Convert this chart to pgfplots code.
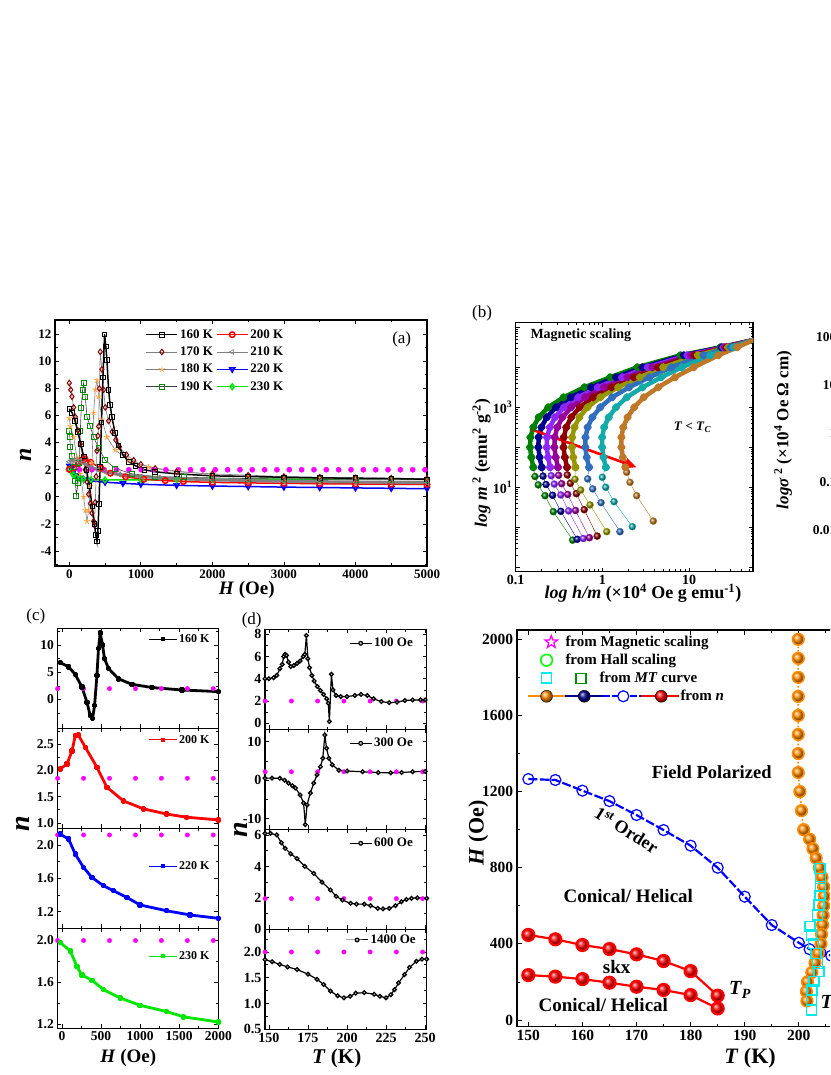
\documentclass[border=0pt]{standalone}
\usepackage{pgfplots}
\pgfplotsset{compat=1.18}
\usepackage{fontspec}
\setmainfont{Liberation Serif}
\usetikzlibrary{arrows.meta,shapes.geometric}

\definecolor{magdot}{RGB}{255,0,255}
\definecolor{dkred}{RGB}{139,0,0}
\definecolor{orst}{RGB}{255,160,60}
\definecolor{grsq}{RGB}{0,140,0}
\definecolor{lime}{RGB}{0,230,0}
\definecolor{bgreen}{RGB}{0,128,0}
\definecolor{bnavy}{RGB}{0,0,140}
\definecolor{bviolet}{RGB}{140,40,255}
\definecolor{bpurple}{RGB}{150,0,150}
\definecolor{bdkred}{RGB}{140,0,0}
\definecolor{bolive}{RGB}{150,150,0}
\definecolor{bsteel}{RGB}{50,110,190}
\definecolor{bteal}{RGB}{20,170,170}
\definecolor{bbrown}{RGB}{190,120,40}
\definecolor{eorange}{RGB}{255,140,0}
\definecolor{ecyan}{RGB}{0,235,235}

\pgfplotsset{
  panel/.style={scale only axis, anchor=north west,
    axis line style={line width=1.1pt},
    every tick/.style={black, line width=0.8pt},
    major tick length=4pt, minor tick length=2.5pt,
    scaled ticks=false,
    /pgf/number format/assume math mode=true,
    /pgf/number format/1000 sep={},
    tick label style={font=\bfseries\fontsize{13}{13}\selectfont},
    legend cell align=left},
  magd/.style={only marks, mark=*, mark size=2.2pt, magdot, forget plot},
  shortleg/.style={legend image code/.code={\draw[mark repeat=2,mark phase=2,##1] plot coordinates {(0pt,0pt) (#1,0pt) (2*#1,0pt)};}},
  cpan/.style={panel, width=161pt, height=100pt, xmin=-60, xmax=2000,
    xtick={0,500,...,2000}, minor xtick={250,750,1250,1750},
    tick label style={font=\bfseries\fontsize{13.5}{13.5}\selectfont},
    legend style={draw=none, fill=none, font=\bfseries\fontsize{12}{12}\selectfont, inner sep=0pt, anchor=east},
    shortleg=14pt},
  dpan/.style={panel, width=161.7pt, height=100pt, xmin=147.5, xmax=251,
    xtick={150,175,200,225,250}, minor xtick={162.5,187.5,212.5,237.5},
    tick label style={font=\bfseries\fontsize{14}{14}\selectfont},
    legend style={draw=none, fill=none, font=\bfseries\fontsize{13}{13}\selectfont, inner sep=0pt, anchor=east},
    shortleg=11pt},
  ccurve/.style={#1, line width=2.8pt, line join=round, mark=square*, mark size=1.3pt, forget plot},
  dcurve/.style={black, line width=1.2pt, mark=ball, mark size=1.9pt, mark options={ball color=gray}, forget plot},
}

\newcommand{\bcurve}[3]{%
  \addplot[#1, line width=0.4pt, mark=ball, mark size=3.5pt, mark options={ball color=#1}, forget plot] coordinates {#2};
  \addplot[#1, line width=4.5pt, line join=round, line cap=round, mark=ball, mark size=1.8pt, mark options={ball color=#1}, forget plot] coordinates {#3};
}

\begin{document}
\begin{tikzpicture}
\useasboundingbox (0pt,0pt) rectangle (830pt,1075pt);
\clip (0pt,0pt) rectangle (830pt,1075pt);

% ---------------- (a)
\begin{axis}[panel, at={(55pt,755pt)}, width=372pt, height=246pt,
  axis line style={line width=1.3pt},
  xmin=-200, xmax=5000, ymin=-5.1, ymax=13.05,
  xtick={0,1000,...,5000}, minor xtick={500,1500,...,4500},
  ytick={-4,-2,...,12}, minor ytick={-5,-3,...,13},
  legend columns=2, shortleg=15.5pt,
  legend style={draw=none, fill=none, at={(0.235,0.978)}, anchor=north west,
    font=\bfseries\fontsize{13}{13}\selectfont, row sep=3.2pt,
    /tikz/every even column/.append style={column sep=1pt}}]
\addplot[magd, mark size=2.6pt] coordinates {(142.5,2)(315,2)(487.5,2)(660,2)(832.5,2)(1005,2)(1177.5,2)(1350,2)(1522.5,2)(1695,2)(1867.5,2)(2040,2)(2212.5,2)(2385,2)(2557.5,2)(2730,2)(2902.5,2)(3075,2)(3247.5,2)(3420,2)(3592.5,2)(3765,2)(3937.5,2)(4110,2)(4282.5,2)(4455,2)(4627.5,2)(4800,2)(4972.5,2)};
% 220 K
\addplot[blue, line width=1.5pt, mark=triangle, mark options={fill=white, rotate=180}, mark size=2.8pt, forget plot] coordinates {(0,2.3)(30,2.2)(60,1.9)(100,1.6)(150,1.4)(200,1.28)(300,1.18)(500,1.08)(750,1.0)(1000,0.93)(1500,0.85)(2000,0.8)(2500,0.76)(3000,0.72)(3500,0.69)(4000,0.66)(4500,0.63)(5000,0.6)};
% 230 K
\addplot[lime, line width=1.5pt, mark=diamond, mark options={fill=white}, mark size=2.8pt, forget plot] coordinates {(0,2.05)(30,1.85)(60,1.6)(100,1.45)(150,1.35)(200,1.3)(300,1.27)(500,1.25)(1000,1.25)(1500,1.27)(2000,1.28)(2500,1.3)(3000,1.3)(3500,1.3)(4000,1.3)(4500,1.3)(5000,1.3)};
% 200 K
\addplot[red, line width=1.5pt, mark=o, mark options={fill=white}, mark size=2.8pt, forget plot] coordinates {(0,2.03)(64,2.15)(128,2.45)(170,2.7)(220,2.8)(298,2.55)(447,2.1)(575,1.75)(787,1.48)(1042,1.3)(1341,1.2)(1596,1.13)(2000,1.07)(2500,1.03)(3000,1.0)(3500,0.97)(4000,0.95)(4500,0.93)(5000,0.92)};
% 190 K
\addplot[darkgray, line width=0.6pt, mark=square, mark options={grsq, fill=white, line width=0.8pt}, mark size=2.5pt, forget plot] coordinates {(0,4.9)(7,4.4)(14,3.7)(37,3.0)(60,2.2)(84,1.2)(98,0.1)(121,1.0)(140,2.5)(154,4.9)(168,6.6)(186,7.9)(200,8.4)(223,7.4)(247,5.9)(293,5.2)(340,4.4)(410,3.6)(503,2.7)(642,2.1)(876,1.7)(1200,1.5)(1600,1.45)(2000,1.4)(2500,1.35)(3000,1.32)(3500,1.3)(4000,1.28)(4500,1.26)(5000,1.25)};
% 180 K
\addplot[gray, line width=0.6pt, mark=star, mark options={orst, line width=0.8pt}, mark size=3pt, forget plot] coordinates {(0,5.8)(14,5.2)(60,4.4)(107,2.9)(154,1.7)(200,0.0)(225,-1.0)(247,-1.8)(270,-1.0)(295,0.8)(317,2.5)(340,6.2)(363,7.9)(387,8.6)(410,7.4)(456,5.7)(526,4.4)(642,3.45)(828,2.7)(1107,2.2)(1500,1.9)(2000,1.65)(2500,1.5)(3000,1.4)(3500,1.35)(4000,1.3)(4500,1.28)(5000,1.25)};
% 170 K
\addplot[gray, line width=0.6pt, mark=diamond, mark options={dkred, fill=white, line width=1pt}, mark size=2.8pt, forget plot] coordinates {(0,8.4)(20,7.9)(37,7.4)(60,6.6)(84,5.9)(120,4.9)(154,3.9)(190,2.9)(223,2.0)(250,1.1)(270,0.2)(295,-0.5)(317,-1.2)(340,-1.8)(353,-2.1)(363,-0.4)(375,1.5)(387,3.4)(400,4.5)(410,5.2)(420,8)(433,10.7)(456,9.4)(479,7.9)(503,6.6)(549,5.6)(600,4.8)(650,4.2)(700,3.7)(800,3.1)(900,2.7)(1000,2.4)(1200,2.1)(1500,1.85)(2000,1.7)(2500,1.6)(3000,1.5)(3500,1.45)(4000,1.4)(4500,1.38)(5000,1.35)};
% 160 K
\addplot[black, line width=1.5pt, mark=square, mark options={fill=white, line width=0.8pt}, mark size=2.3pt, forget plot] coordinates {(0,6.5)(40,6.2)(80,5.6)(120,4.8)(160,3.9)(200,3.0)(240,2.0)(280,0.8)(320,-0.7)(350,-2.0)(370,-2.8)(387,-3.3)(400,-2.5)(415,-0.5)(430,2.2)(450,5.5)(470,8.8)(493,12)(510,11.1)(526,10.1)(549,7.9)(570,6.8)(595,5.9)(640,4.7)(689,3.8)(750,3.1)(830,2.6)(922,2.3)(1050,2.0)(1200,1.85)(1500,1.7)(2000,1.55)(2500,1.5)(3000,1.45)(3500,1.4)(4000,1.38)(4500,1.35)(5000,1.3)};
% 210 K
\addplot[gray, line width=3pt, mark=triangle, mark options={fill=white, rotate=90, line width=0.8pt}, mark size=2.8pt, forget plot] coordinates {(0,2.6)(50,2.7)(100,2.75)(150,2.65)(200,2.5)(300,2.2)(400,2.0)(500,1.85)(700,1.65)(1000,1.5)(1250,1.42)(1500,1.35)(2000,1.25)(2500,1.2)(3000,1.15)(3500,1.12)(4000,1.1)(4500,1.07)(5000,1.05)};
\addlegendimage{black, line width=1.5pt, mark=square, mark options={fill=white, line width=0.8pt}, mark size=2.3pt}
\addlegendentry{160 K}
\addlegendimage{red, line width=1.5pt, mark=o, mark options={fill=white}, mark size=2.8pt}
\addlegendentry{200 K}
\addlegendimage{gray, line width=0.6pt, mark=diamond, mark options={dkred, fill=white, line width=1pt}, mark size=2.8pt}
\addlegendentry{170 K}
\addlegendimage{gray, line width=0.6pt, mark=triangle, mark options={gray, fill=white, rotate=90}, mark size=2.8pt}
\addlegendentry{210 K}
\addlegendimage{gray, line width=0.6pt, mark=star, mark options={orst}, mark size=3pt}
\addlegendentry{180 K}
\addlegendimage{blue, line width=1.5pt, mark=triangle, mark options={fill=white, rotate=180}, mark size=2.8pt}
\addlegendentry{220 K}
\addlegendimage{darkgray, line width=0.6pt, mark=square, mark options={grsq, fill=white}, mark size=2.5pt}
\addlegendentry{190 K}
\addlegendimage{lime, line width=1.5pt, mark=diamond, mark options={fill=white}, mark size=2.8pt}
\addlegendentry{230 K}
\end{axis}

% ---------------- (b)  (axes in decades: value = log10)
\begin{axis}[panel, at={(515.7pt,752.3pt)}, width=237.3pt, height=249pt,
  axis line style={line width=1.3pt},
  tick label style={font=\bfseries\fontsize{14}{14}\selectfont},
  xmin=-1, xmax=1.737, ymin=-1.11, ymax=5.115,
  xtick={-1,0,1}, xticklabels={0.1,1,10},
  minor xtick={-0.699,-0.523,-0.398,-0.301,-0.222,-0.155,-0.097,-0.046,0.301,0.477,0.602,0.699,0.778,0.845,0.903,0.954,1.301,1.477,1.602,1.699},
  ytick={-1,0,1,2,3,4,5}, yticklabels={,,10\textsuperscript{1},,10\textsuperscript{3},,},
  minor ytick={-0.699,-0.523,-0.398,-0.301,-0.222,-0.155,-0.097,-0.046,0.301,0.477,0.602,0.699,0.778,0.845,0.903,0.954,1.301,1.477,1.602,1.699,1.778,1.845,1.903,1.954,2.301,2.477,2.602,2.699,2.778,2.845,2.903,2.954,3.301,3.477,3.602,3.699,3.778,3.845,3.903,3.954,4.301,4.477,4.602,4.699,4.778,4.845,4.903,4.954},
  ]
\bcurve{bgreen}{(-0.343,-0.32)(-0.566,0.39)(-0.662,0.79)(-0.74,1.06)(-0.777,1.27)(-0.797,1.5)}{(-0.797,1.5)(-0.82,1.75)(-0.835,2.0)(-0.83,2.25)(-0.797,2.5)(-0.735,2.75)(-0.625,3.0)(-0.448,3.25)(-0.208,3.5)(0.089,3.75)(0.403,4.0)(0.9,4.3)(1.36,4.5)(1.74,4.68)}
\bcurve{bnavy}{(-0.29,-0.30)(-0.48,0.40)(-0.575,0.80)(-0.65,1.07)(-0.685,1.28)(-0.70,1.5)}{(-0.70,1.5)(-0.724,1.75)(-0.739,2.0)(-0.735,2.25)(-0.703,2.5)(-0.642,2.75)(-0.535,3.0)(-0.364,3.25)(-0.13,3.5)(0.157,3.75)(0.462,4.0)(0.94,4.3)(1.378,4.5)(1.74,4.68)}
\bcurve{bviolet}{(-0.22,-0.28)(-0.39,0.41)(-0.48,0.81)(-0.555,1.08)(-0.59,1.29)(-0.603,1.5)}{(-0.603,1.5)(-0.627,1.75)(-0.642,2.0)(-0.638,2.25)(-0.607,2.5)(-0.547,2.75)(-0.443,3.0)(-0.279,3.25)(-0.052,3.5)(0.226,3.75)(0.522,4.0)(0.98,4.3)(1.396,4.5)(1.74,4.68)}
\bcurve{bpurple}{(-0.15,-0.26)(-0.31,0.42)(-0.40,0.82)(-0.47,1.09)(-0.505,1.30)(-0.513,1.5)}{(-0.513,1.5)(-0.538,1.75)(-0.554,2.0)(-0.55,2.25)(-0.52,2.5)(-0.461,2.75)(-0.36,3.0)(-0.201,3.25)(0.019,3.5)(0.289,3.75)(0.577,4.0)(1.017,4.3)(1.412,4.5)(1.74,4.68)}
\bcurve{bdkred}{(-0.06,-0.22)(-0.21,0.44)(-0.30,0.84)(-0.37,1.10)(-0.405,1.31)(-0.408,1.5)}{(-0.408,1.5)(-0.433,1.75)(-0.449,2.0)(-0.446,2.25)(-0.417,2.5)(-0.36,2.75)(-0.262,3.0)(-0.109,3.25)(0.104,3.5)(0.363,3.75)(0.641,4.0)(1.06,4.3)(1.431,4.5)(1.74,4.68)}
\bcurve{bolive}{(0.05,-0.11)(-0.143,0.56)(-0.25,0.93)(-0.316,1.2)(-0.311,1.5)}{(-0.311,1.5)(-0.336,1.75)(-0.352,2.0)(-0.35,2.25)(-0.322,2.5)(-0.266,2.75)(-0.171,3.0)(-0.024,3.25)(0.182,3.5)(0.432,3.75)(0.701,4.0)(1.101,4.3)(1.449,4.5)(1.74,4.68)}
\bcurve{bsteel}{(0.203,-0.11)(-0.016,0.615)(-0.112,0.96)(-0.17,1.21)(-0.154,1.5)}{(-0.154,1.5)(-0.181,1.75)(-0.197,2.0)(-0.195,2.25)(-0.17,2.5)(-0.115,2.75)(-0.025,3.0)(0.112,3.25)(0.307,3.5)(0.542,3.75)(0.797,4.0)(1.165,4.3)(1.478,4.5)(1.74,4.68)}
\bcurve{bteal}{(0.345,0.015)(0.134,0.64)(0.038,1.0)(-0.001,1.25)(0.04,1.5)}{(0.04,1.5)(0.012,1.75)(-0.004,2.0)(-0.003,2.25)(0.02,2.5)(0.073,2.75)(0.157,3.0)(0.281,3.25)(0.463,3.5)(0.678,3.75)(0.916,4.0)(1.245,4.3)(1.514,4.5)(1.74,4.68)}
\bcurve{bbrown}{(0.587,0.157)(0.395,0.79)(0.318,1.125)(0.28,1.375)(0.265,1.5)}{(0.265,1.5)(0.236,1.75)(0.219,2.0)(0.219,2.25)(0.24,2.5)(0.29,2.75)(0.367,3.0)(0.477,3.25)(0.644,3.5)(0.837,3.75)(1.054,4.0)(1.338,4.3)(1.555,4.5)(1.74,4.68)}
\addplot[red, line width=2.6pt, -{Triangle[length=12pt,width=10pt]}, forget plot] coordinates {(-0.835,2.46)(0.395,1.5)};
\node[anchor=west, font=\bfseries\fontsize{14}{14}\selectfont] at (axis cs:-0.87,4.81) {Magnetic scaling};
\node[font=\bfseries\fontsize{13}{13}\selectfont] at (axis cs:1.04,2.51) {\textit{T} < \textit{T}\textsubscript{\textit{C}}};
\end{axis}

% ---------------- right fragment (sigma axis)
\begin{axis}[panel, at={(840pt,752.3pt)}, width=150pt, height=249pt,
  ymode=log, ymin=0.00137, ymax=198, xmin=0, xmax=1,
  ytick={0.01,0.1,1,10,100}, yticklabels={0.01,0.1,1,10,100},
  xtick=\empty, tick label style={font=\bfseries\fontsize{13.5}{13.5}\selectfont}]
\end{axis}

% ---------------- (c)
\begin{axis}[cpan, at={(57.3pt,446.7pt)}, ymin=-5.3, ymax=13.1, ytick={0,5,10}, minor ytick={-2.5,2.5,7.5,12.5},
  xticklabels={}, legend style={at={(0.959,0.89)}}]
\addplot[magd] coordinates {(-56,2)(276,2)(608,2)(940,2)(1272,2)(1604,2)(1936,2)};
\addplot[ccurve=black] coordinates {(-22,6.8)(85,6.0)(170,4.6)(255,2.3)(320,-0.5)(361,-3.0)(391,-3.5)(417,-1.1)(447,4.4)(467,9.4)(489,12.2)(519,10)(544,7.5)(596,5.7)(723,3.8)(894,2.8)(1150,2.2)(1533,1.75)(2000,1.45)};
\addlegendimage{black, line width=1pt, mark=square*, mark size=1.5pt}
\addlegendentry{160 K}
\end{axis}
\begin{axis}[cpan, at={(57.3pt,346.7pt)}, ymin=0.9, ymax=2.8, ytick={1.0,1.5,2.0,2.5}, minor ytick={1.25,1.75,2.25,2.75},
  yticklabel style={/pgf/number format/.cd, fixed, fixed zerofill, precision=1},
  xticklabels={}, legend style={at={(0.959,0.884)}}]
\addplot[magd] coordinates {(-56,1.85)(276,1.85)(608,1.85)(940,1.85)(1272,1.85)(1604,1.85)(1936,1.85)};
\addplot[ccurve=red] coordinates {(-22,2.03)(64,2.12)(128,2.37)(170,2.66)(210,2.67)(298,2.44)(447,2.06)(575,1.68)(787,1.42)(1042,1.27)(1341,1.17)(1596,1.11)(2000,1.06)};
\addlegendimage{red, line width=1pt, mark=square*, mark size=1.5pt}
\addlegendentry{200 K}
\end{axis}
\begin{axis}[cpan, at={(57.3pt,246.7pt)}, ymin=1.0, ymax=2.2, ytick={1.2,1.6,2.0}, minor ytick={1.4,1.8},
  yticklabel style={/pgf/number format/.cd, fixed, fixed zerofill, precision=1},
  xticklabels={}, legend style={at={(0.959,0.62)}}]
\addplot[magd] coordinates {(-56,2.12)(276,2.12)(608,2.12)(940,2.12)(1272,2.12)(1604,2.12)(1936,2.12)};
\addplot[ccurve=blue] coordinates {(-22,2.13)(85,2.07)(170,1.89)(276,1.73)(383,1.61)(532,1.51)(659,1.45)(830,1.37)(1000,1.28)(1341,1.21)(1639,1.16)(2000,1.12)};
\addlegendimage{blue, line width=1pt, mark=square*, mark size=1.5pt}
\addlegendentry{220 K}
\end{axis}
\begin{axis}[cpan, at={(57.3pt,146.7pt)}, ymin=1.16, ymax=2.117, ytick={1.2,1.6,2.0}, minor ytick={1.4,1.8},
  yticklabel style={/pgf/number format/.cd, fixed, fixed zerofill, precision=1},
  legend style={at={(0.959,0.72)}}]
\addplot[magd] coordinates {(-56,2)(276,2)(608,2)(940,2)(1272,2)(1604,2)(1936,2)};
\addplot[ccurve=lime] coordinates {(-22,1.98)(106,1.9)(192,1.75)(255,1.67)(383,1.62)(532,1.53)(745,1.45)(1000,1.38)(1341,1.32)(1553,1.27)(2000,1.22)};
\addlegendimage{lime, line width=1pt, mark=square*, mark size=1.5pt}
\addlegendentry{230 K}
\end{axis}

% ---------------- (d)
\begin{axis}[dpan, at={(265pt,445.7pt)}, ymin=-0.54, ymax=8.45, ytick={0,2,4,6,8}, minor ytick={1,3,5,7},
  xticklabels={}, legend style={at={(0.928,0.86)}}]
\addplot[magd] coordinates {(147.6,2)(164.4,2)(181.2,2)(198,2)(214.8,2)(231.6,2)(248.4,2)};
\addplot[dcurve] coordinates {(147.5,4.0)(150,4.0)(153,4.1)(155,4.3)(157,4.9)(158.5,5.3)(159.5,6.0)(160.3,6.2)(161.3,6.1)(162.5,5.5)(164,5.1)(166,5.2)(168,5.4)(170,5.6)(172,6.0)(173,6.2)(174,7.9)(175,5.8)(176,5.0)(177.5,4.3)(179,3.8)(181,3.3)(183,2.95)(185,2.6)(187,2.2)(188,1.8)(188.7,0.15)(190,4.4)(191,3.0)(193,2.5)(196,2.4)(200,2.4)(205,2.5)(209,2.6)(213,2.5)(217,2.2)(222,1.95)(227,1.85)(232,1.9)(237,2.05)(242,2.1)(247,2.1)(250,2.1)};
\addlegendimage{black, line width=1pt, mark=ball, mark size=2pt, mark options={ball color=gray}}
\addlegendentry{100 Oe}
\end{axis}
\begin{axis}[dpan, at={(265pt,345.7pt)}, ymin=-12.7, ymax=13.2, ytick={-10,0,10}, minor ytick={-5,5},
  xticklabels={}, legend style={at={(0.928,0.86)}}]
\addplot[magd] coordinates {(147.6,2.2)(164.4,2.2)(181.2,2.2)(198,2.2)(214.8,2.2)(231.6,2.2)(248.4,2.2)};
\addplot[dcurve] coordinates {(147.5,0.55)(152,0.55)(157,0.5)(160,0.0)(162.5,-0.75)(165,-1.4)(167,-2.0)(170,-3.8)(172.2,-5.9)(173.3,-11.5)(174.4,-6.4)(176.5,-3.3)(178.7,-0.75)(180.8,1.4)(183,3.5)(184.5,5.7)(185.8,11.7)(186.9,8.3)(188.4,5.7)(190.5,4.0)(194.8,2.6)(200,2.4)(210,2.2)(220,2.0)(228,1.9)(235,2.0)(242,2.2)(250,2.3)};
\addlegendimage{black, line width=1pt, mark=ball, mark size=2pt, mark options={ball color=gray}}
\addlegendentry{300 Oe}
\end{axis}
\begin{axis}[dpan, at={(265pt,245.7pt)}, ymin=0, ymax=6.36, ytick={0,2,4,6}, minor ytick={1,3,5},
  xticklabels={}, legend style={at={(0.928,0.86)}}]
\addplot[magd] coordinates {(147.6,1.95)(164.4,1.95)(181.2,1.95)(198,1.95)(214.8,1.95)(231.6,1.95)(248.4,1.95)};
\addplot[dcurve] coordinates {(147.5,6.1)(151,6.1)(155,6.0)(158,5.5)(160.4,5.15)(164,4.8)(168,4.5)(173,4.0)(178.7,3.55)(184,3.0)(189.4,2.5)(193,2.1)(197,1.86)(202.3,1.65)(206,1.6)(211,1.6)(215,1.5)(219.6,1.33)(223,1.3)(227,1.33)(231,1.5)(234.8,1.75)(238,1.9)(241.3,1.97)(245,2.0)(251,1.97)};
\addlegendimage{black, line width=1pt, mark=ball, mark size=2pt, mark options={ball color=gray}}
\addlegendentry{600 Oe}
\end{axis}
\begin{axis}[dpan, at={(265pt,145.7pt)}, ymin=0.5, ymax=2.44, ytick={0.5,1.0,1.5,2.0}, minor ytick={0.75,1.25,1.75,2.25},
  yticklabel style={/pgf/number format/.cd, fixed, fixed zerofill, precision=1},
  legend style={at={(0.946,0.893)}}]
\addplot[magd] coordinates {(147.6,2)(164.4,2)(181.2,2)(198,2)(214.8,2)(231.6,2)(248.4,2)};
\addplot[dcurve] coordinates {(147.5,1.85)(152,1.81)(157,1.76)(162,1.71)(168,1.66)(175,1.57)(180.8,1.47)(185,1.37)(189.4,1.24)(194,1.15)(198,1.11)(202,1.14)(205.6,1.2)(211,1.21)(217.4,1.18)(221,1.14)(225,1.11)(228,1.17)(230.4,1.27)(233,1.4)(236.8,1.56)(240,1.7)(244.4,1.82)(248,1.86)(251,1.86)};
\addlegendimage{black, line width=1pt, mark=ball, mark size=2pt, mark options={ball color=gray}}
\addlegendentry{1400 Oe}
\end{axis}

% ---------------- (e) phase diagram
\begin{axis}[panel, at={(516.7pt,445pt)}, width=466.3pt, height=396.7pt,
  axis line style={line width=1.6pt},
  xmin=147.85, xmax=234.05, ymin=-35, ymax=2049,
  xtick={150,160,...,230}, minor xtick={155,165,...,235},
  ytick={0,400,...,2000}, minor ytick={200,600,...,1800},
  major tick length=5pt, minor tick length=3pt,
  tick label style={font=\bfseries\fontsize{15.5}{15.5}\selectfont},
  legend style={draw=none, fill=none, at={(0.024,0.988)}, anchor=north west,
    font=\bfseries\fontsize{15}{15}\selectfont, row sep=4pt, inner sep=0pt,
    nodes={inner sep=1pt},
    /tikz/every even column/.append style={column sep=2pt}}]
\addplot[blue, line width=2.2pt, dash pattern=on 9pt off 2.5pt, mark=o, mark size=5.5pt, mark options={solid, fill=white, line width=1.2pt}, forget plot] coordinates {(150,1266)(155,1261)(160,1205)(165,1150)(170,1077)(175,998)(180,916)(185,800)(190,648)(195,499)(200,406)(202,372)(204,355)(206,338)(208,320)};
\addplot[red, line width=2.2pt, mark=ball, mark size=6pt, mark options={ball color=red}, forget plot] coordinates {(150,447)(155,424)(160,394)(165,373)(170,345)(175,310)(180,257)(185,128)};
\addplot[red, line width=2.2pt, mark=ball, mark size=6pt, mark options={ball color=red}, forget plot] coordinates {(150,236)(155,228)(160,215)(165,196)(170,175)(175,158)(180,131)(185,61)};
\addplot[eorange, line width=1.6pt, dotted, mark=ball, mark size=5.8pt, mark options={solid, ball color=eorange}, forget plot] coordinates {(199.9,2000)(199.9,1900)(199.9,1800)(199.9,1700)(199.9,1600)(199.9,1500)(199.9,1400)(199.9,1300)(200.2,1200)(200.5,1100)(200.9,1000)(202,950)(202.6,900)(203.2,850)(203.8,800)(204.3,750)(204.6,700)(204.7,650)(204.6,600)(204.5,550)(204.4,500)(204.2,450)(204.1,400)(203.6,350)(203,300)(202.4,250)(201.6,200)(201.4,150)(201.5,100)};
\addplot[only marks, mark=square, mark size=5pt, mark options={ecyan, line width=1.4pt}, forget plot] coordinates {(203.9,797)(204.05,744)(204.05,700)(203.9,653)(203.7,604)(203.4,551)(202.1,490)(202.3,447)(202.7,403)(203.2,350)(203.5,298)(203.7,254)(202.8,201)(202.4,158)(202.3,105)(202.3,53)};
\addlegendimage{legend image code/.code={\path (0pt,0pt) (36pt,0pt); \node[star, star points=5, star point ratio=2.4, draw=magdot, line width=1.3pt, inner sep=0pt, minimum size=13pt] at (18.3pt,0pt) {};}}
\addlegendentry{from Magnetic scaling}
\addlegendimage{legend image code/.code={\path (0pt,0pt) (36pt,0pt); \draw[green, line width=1.6pt] (18.3pt,0pt) circle (5.8pt);}}
\addlegendentry{from Hall scaling}
\addlegendimage{legend image code/.code={\path (0pt,0pt) (36pt,0pt); \draw[draw=ecyan, line width=1.6pt] (13.3pt,-5pt) rectangle (23.3pt,5pt); \draw[overlay, draw=grsq, line width=1.4pt] (47.7pt,-5pt) rectangle (57.7pt,5pt);}}
\addlegendentry{\hspace*{34pt}from \textit{MT} curve}
\addlegendimage{legend image code/.code={\path (0pt,0pt) (36pt,0pt);
  \draw[overlay, eorange, line width=1.8pt] (0pt,0pt)--(37pt,0pt);
  \draw[overlay, bnavy, line width=1.8pt] (37pt,0pt)--(75pt,0pt);
  \draw[overlay, blue, line width=1.8pt, dash pattern=on 7pt off 2pt] (75pt,0pt)--(113pt,0pt);
  \draw[overlay, red, line width=1.8pt] (113pt,0pt)--(151pt,0pt);
  \shade[overlay, ball color=eorange] (18.3pt,0pt) circle (6pt);
  \shade[overlay, ball color=bnavy] (56pt,0pt) circle (6pt);
  \draw[overlay, blue, fill=white, line width=1.2pt] (95pt,0pt) circle (5.5pt);
  \shade[overlay, ball color=red] (133pt,0pt) circle (6pt);}}
\addlegendentry{\hspace*{115pt}from \textit{n}}
\end{axis}

% ---------------- labels
\node[font=\fontsize{17}{17}\selectfont] at (401.7pt,736pt) {(a)};
\node[font=\fontsize{17}{17}\selectfont] at (482pt,762pt) {(b)};
\node[font=\fontsize{17}{17}\selectfont] at (35.8pt,459pt) {(c)};
\node[font=\fontsize{17}{17}\selectfont] at (251.7pt,455pt) {(d)};
\node[font=\bfseries\fontsize{19}{19}\selectfont] at (246.7pt,485pt) {\textit{H} (Oe)};
\node[rotate=90, font=\bfseries\itshape\fontsize{24}{24}\selectfont] at (25.5pt,620pt) {n};
\node[rotate=90, font=\bfseries\fontsize{17.5}{17.5}\selectfont] at (481.7pt,612pt) {\textit{log m}\textsuperscript{ 2} (emu\textsuperscript{2} g\textsuperscript{-2})};
\node[font=\bfseries\fontsize{18}{18}\selectfont] at (643pt,482pt) {\textit{log h/m} (×10\textsuperscript{4} Oe g emu\textsuperscript{-1})};
\node[rotate=90, font=\bfseries\fontsize{17}{17}\selectfont] at (783pt,645pt) {\textit{logσ}\textsuperscript{ 2} (×10\textsuperscript{4} Oe Ω cm)};
\node[rotate=90, font=\bfseries\itshape\fontsize{28}{28}\selectfont] at (22.5pt,251pt) {n};
\node[rotate=90, font=\bfseries\itshape\fontsize{28}{28}\selectfont] at (241pt,245pt) {n};
\node[font=\bfseries\fontsize{19}{19}\selectfont] at (128.3pt,17pt) {\textit{H} (Oe)};
\node[font=\bfseries\fontsize{21}{21}\selectfont] at (336.7pt,17pt) {\textit{T} (K)};
\node[font=\bfseries\fontsize{22}{22}\selectfont] at (750pt,17pt) {\textit{T} (K)};
\node[rotate=90, font=\bfseries\fontsize{22}{22}\selectfont] at (478.3pt,242pt) {\textit{H} (Oe)};
\node[font=\bfseries\fontsize{18.5}{18.5}\selectfont] at (711.7pt,303.3pt) {Field Polarized};
\node[rotate=-32, font=\bfseries\fontsize{18}{18}\selectfont] at (626.7pt,245pt) {1\textsuperscript{st} Order};
\node[font=\bfseries\fontsize{19}{19}\selectfont] at (628.3pt,179.3pt) {Conical/ Helical};
\node[font=\bfseries\fontsize{19}{19}\selectfont] at (616.7pt,108.3pt) {skx};
\node[font=\bfseries\fontsize{19}{19}\selectfont] at (603.3pt,70pt) {Conical/ Helical};
\node[font=\bfseries\fontsize{20}{20}\selectfont] at (740pt,85pt) {\textit{T}\textsubscript{\textit{P}}};
\node[anchor=west, font=\bfseries\fontsize{20}{20}\selectfont] at (817pt,71.7pt) {\textit{T}\textsubscript{\textit{C}}};
\end{tikzpicture}
\end{document}
